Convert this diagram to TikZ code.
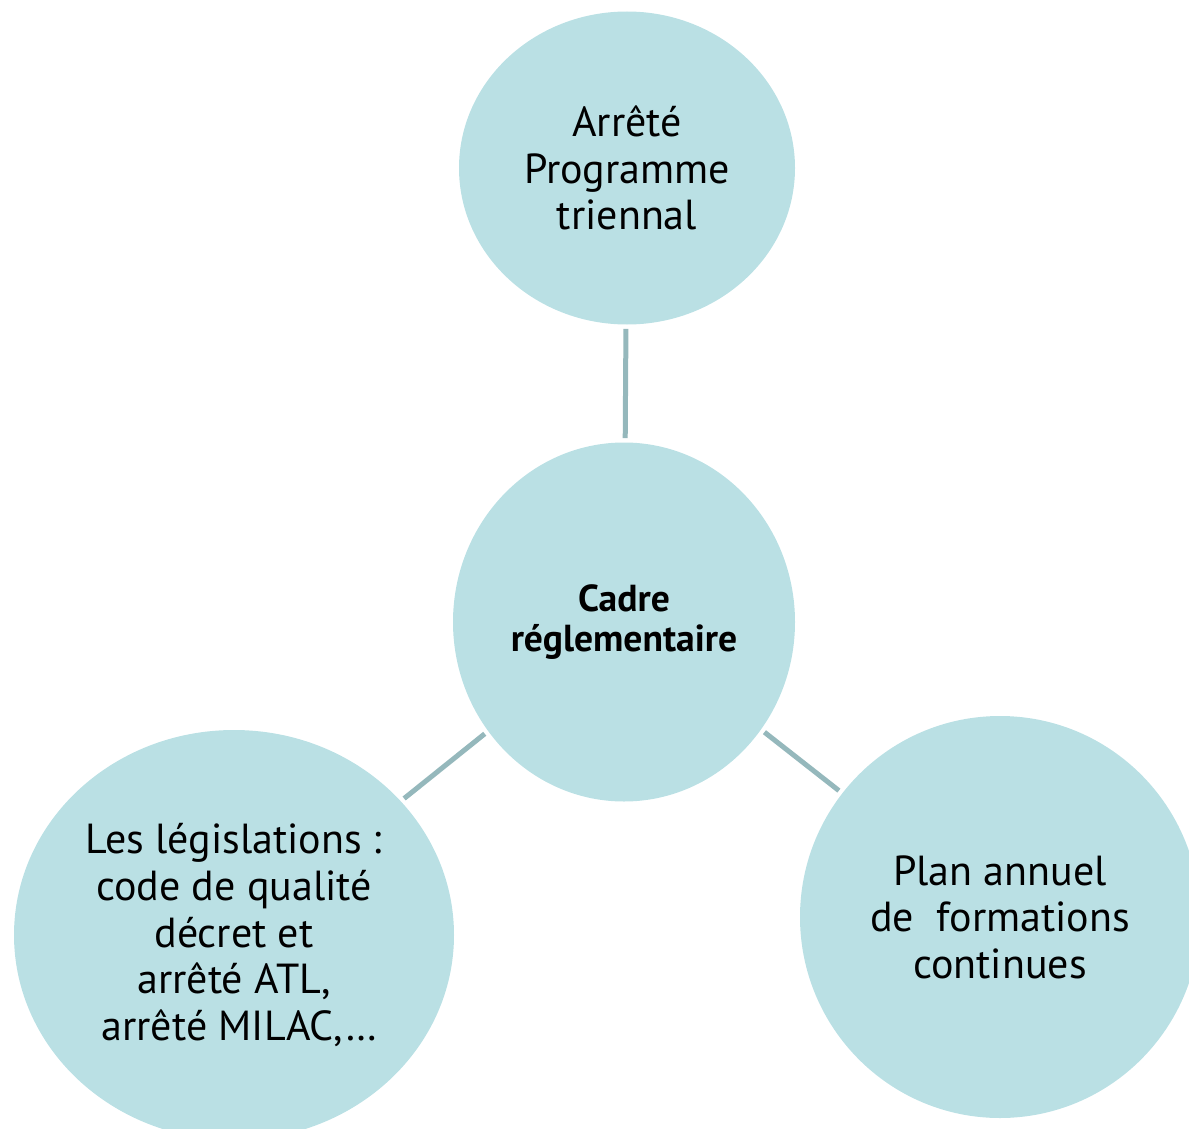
\documentclass[tikz,border=0pt]{standalone}
\usepackage{fontspec}
\setmainfont{PT Sans}
\usetikzlibrary{shapes.geometric}
\definecolor{bulle}{HTML}{BAE0E4}
\definecolor{trait}{HTML}{95B8BC}

\begin{document}
\begin{tikzpicture}[x=0.5pt,y=-0.5pt,
  bulle/.style={ellipse, fill=bulle, inner sep=0pt, align=center, font=\fontsize{21}{23.3}\selectfont},
  lien/.style={draw=trait, line width=2.5pt, shorten <=2pt, shorten >=2pt}]
\useasboundingbox (0,0) rectangle (1189,1129);

% Draw the four bubbles
\node[bulle, minimum width=168pt, minimum height=156.5pt] (prog) at (627,168) {Arrêté\\Programme\\triennal};
\node[bulle, minimum width=171pt, minimum height=179.5pt, font=\bfseries\fontsize{18.8}{20}\selectfont] (cadre) at (624,622) {Cadre\\réglementaire};
\node[bulle, minimum width=220pt, minimum height=205pt] (legis) at (234,935) {Les législations :\\code de qualité\\décret et\\arrêté ATL,\\~arrêté MILAC,…};
\node[bulle, minimum width=200pt, minimum height=201pt] (plan) at (1000,917) {Plan annuel\\de~ formations\\continues};

% Connect the centre to each bubble
\draw[lien] (prog) -- (cadre);
\draw[lien] (cadre) -- (legis);
\draw[lien] (cadre) -- (plan);

\end{tikzpicture}
\end{document}
